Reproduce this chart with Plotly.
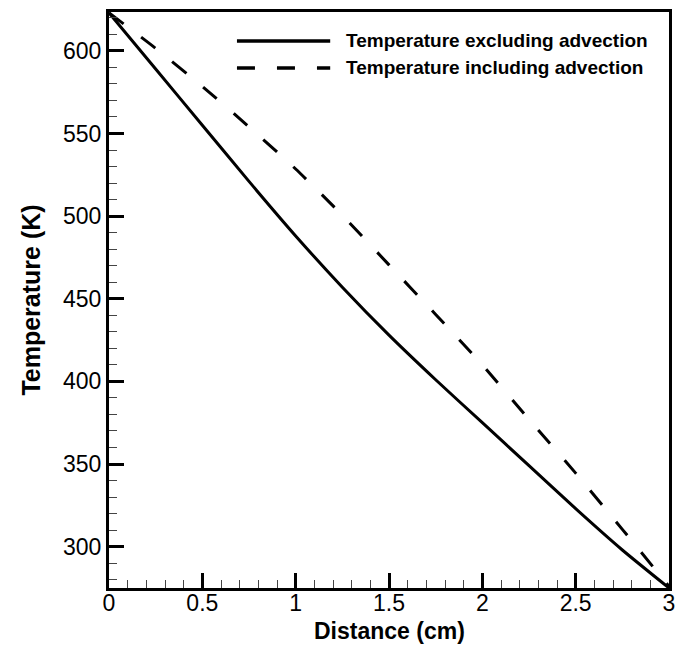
import plotly.graph_objects as go

distance = [0.0, 0.25, 0.5, 0.75, 1.0, 1.25, 1.5, 1.75, 2.0, 2.25, 2.5, 2.75, 3.0]
temp_excl = [623, 589, 555, 521, 488, 457, 428, 401, 375, 349, 323, 298, 275]
temp_incl = [623, 601.5, 578.5, 554, 528.5, 500.5, 470.5, 440.5, 410, 377, 344.5, 310.5, 276]

name_excl = "Temperature excluding advection"
name_incl = "Temperature including advection"
x_title = "Distance (cm)"
y_title = "Temperature (K)"

FONT = "Liberation Sans, Arial, Helvetica, sans-serif"
DASH = "18px,22px"

fig = go.Figure()
fig.add_trace(go.Scatter(x=distance, y=temp_excl, mode="lines", name=name_excl,
                         line=dict(color="black", width=3, shape="spline", smoothing=0.6),
                         showlegend=False))
fig.add_trace(go.Scatter(x=distance, y=temp_incl, mode="lines", name=name_incl,
                         line=dict(color="black", width=3, dash=DASH, shape="spline", smoothing=0.6),
                         showlegend=False))

# manual legend (long line samples as in the reference)
legend_rows = [(name_excl, "solid", 0.9497), (name_incl, DASH, 0.9028)]
for label, dash, yp in legend_rows:
    fig.add_shape(type="line", xref="paper", yref="paper",
                  x0=0.2285, x1=0.395, y0=yp, y1=yp,
                  line=dict(color="black", width=3.5, dash=dash))
    fig.add_annotation(xref="paper", yref="paper", x=0.4205, y=yp, text="<b>" + label + "</b>",
                       showarrow=False, xanchor="left", yanchor="middle",
                       font=dict(family=FONT, size=19, color="black"))

# x-axis title placed as annotation below tick labels
fig.add_annotation(xref="paper", yref="paper", x=0.5, y=-0.0747, text="<b>" + x_title + "</b>",
                   showarrow=False, xanchor="center", yanchor="middle",
                   font=dict(family=FONT, size=23, color="black"))

axis_common = dict(
    showline=True, linecolor="black", linewidth=3, mirror=True,
    ticks="inside", tickcolor="black", tickwidth=2.5, ticklen=15,
    showgrid=False, zeroline=False,
    tickfont=dict(family=FONT, size=23, color="black"),
)

fig.update_xaxes(range=[0, 3], tick0=0, dtick=0.5, ticklabelstandoff=-8,
                 minor=dict(ticks="inside", dtick=0.1, ticklen=8, tickwidth=1.2, tickcolor="#444"),
                 **axis_common)
fig.update_yaxes(range=[275, 623.5], tick0=300, dtick=50,
                 minor=dict(ticks="inside", dtick=10, ticklen=8, tickwidth=1.2, tickcolor="#444"),
                 title=dict(text="<b>" + y_title + "</b>", font=dict(family=FONT, size=25, color="black"), standoff=16),
                 **axis_common)

fig.update_layout(width=677, height=646,
                  margin=dict(l=109, r=8, t=12, b=58, autoexpand=False),
                  paper_bgcolor="white", plot_bgcolor="white")

fig.write_html("out.html")
